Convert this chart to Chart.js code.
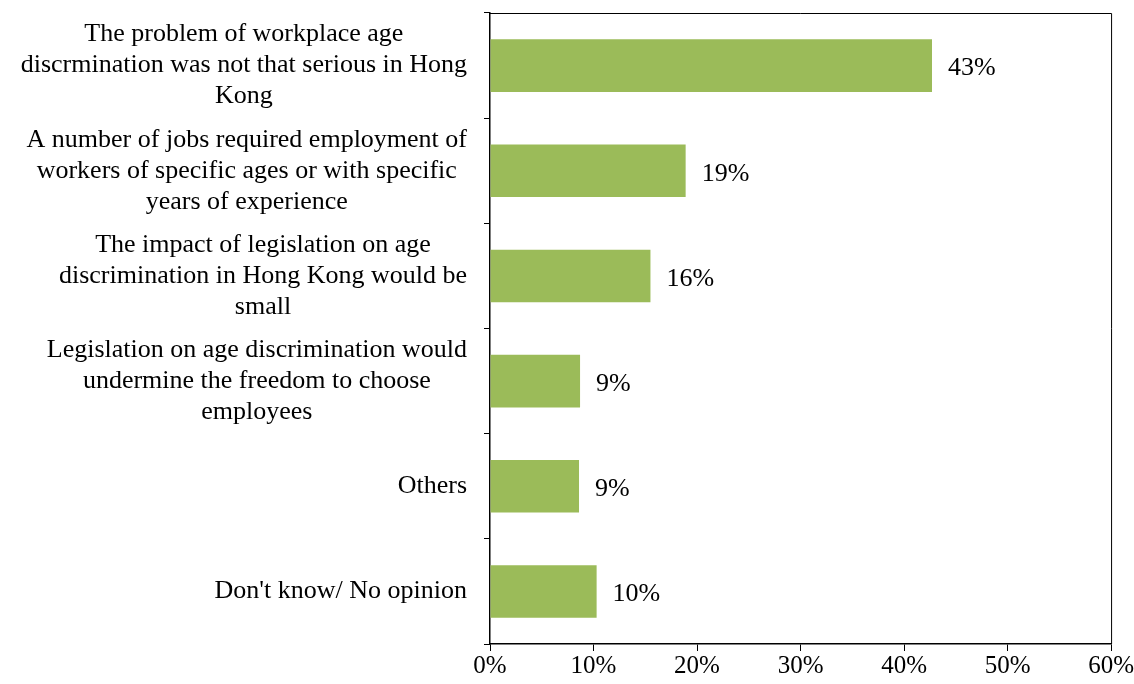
<!DOCTYPE html>
<html>
<head>
<meta charset="utf-8">
<script src="https://cdn.jsdelivr.net/npm/chart.js@4"></script>
<style>
  body { margin: 0; background: #fff; }
  #wrap { width: 1134px; height: 684px; position: relative; }
</style>
</head>
<body>
<div id="wrap"><canvas id="Chart"></canvas></div>
<script>
// categories, top to bottom
var reasons = [
    ["The problem of workplace age", "discrmination was not that serious in Hong", "Kong"],
    ["A number of jobs required employment of", "workers of specific ages or with specific", "years of experience"],
    ["The impact of legislation on age", "discrimination in Hong Kong would be", "small"],
    ["Legislation on age discrimination would", "undermine the freedom to choose", "employees"],
    ["Others"],
    ["Don't know/ No opinion"]
];
// share of respondents (%)
var shares = [42.7, 18.9, 15.5, 8.7, 8.6, 10.3];
// printed value labels
var shareLabels = ["43%", "19%", "16%", "9%", "9%", "10%"];

var serif = "'Liberation Serif', 'Times New Roman', serif";

// category labels: block right-aligned to the axis, lines centred inside it
var catLabels = {
    id: 'catLabels',
    afterDraw: function(chart) {
        var ctx = chart.ctx;
        var yScale = chart.scales.y;
        var area = chart.chartArea;
        ctx.save();
        ctx.font = "26px " + serif;
        ctx.fillStyle = "#000";
        ctx.textAlign = "center";
        ctx.textBaseline = "middle";
        var lineH = 31;
        reasons.forEach(function(lines, i) {
            var maxW = 0;
            lines.forEach(function(l) { maxW = Math.max(maxW, ctx.measureText(l).width); });
            var cx = area.left - 23 - maxW / 2;
            var cy = yScale.getPixelForValue(i);
            var y0 = cy - (lines.length - 1) * lineH / 2;
            lines.forEach(function(l, k) {
                ctx.fillText(l, cx, y0 + k * lineH);
            });
        });
        ctx.restore();
    }
};

// value labels to the right of each bar, plus the frame
var barValues = {
    id: 'barValues',
    afterDatasetsDraw: function(chart) {
        var ctx = chart.ctx;
        var meta = chart.getDatasetMeta(0);
        var area = chart.chartArea;
        ctx.save();
        ctx.strokeStyle = "#000";
        ctx.lineWidth = 1;
        ctx.beginPath();
        ctx.moveTo(area.left, area.top + 0.5);
        ctx.lineTo(area.right + 0.5, area.top + 0.5);
        ctx.lineTo(area.right + 0.5, area.bottom);
        ctx.stroke();
        ctx.font = "26px " + serif;
        ctx.fillStyle = "#000";
        ctx.textAlign = "left";
        ctx.textBaseline = "middle";
        meta.data.forEach(function(bar, i) {
            ctx.fillText(shareLabels[i], bar.x + 16, bar.y + 3);
        });
        ctx.restore();
    }
};

var ctx = document.getElementById("Chart");
var newChart = new Chart(ctx, {
    type: 'bar',
    data: {
        labels: reasons,
        datasets: [{
            data: shares,
            backgroundColor: "#9BBB59",
            borderWidth: 0,
            barPercentage: 0.5,
            categoryPercentage: 1.0
        }]
    },
    options: {
        indexAxis: 'y',
        responsive: true,
        maintainAspectRatio: false,
        animation: false,
        layout: { padding: { left: 484, top: 13, right: 0, bottom: 3 } },
        plugins: {
            legend: { display: false },
            tooltip: { enabled: false }
        },
        scales: {
            x: {
                min: 0,
                max: 60,
                ticks: {
                    stepSize: 10,
                    color: "#000",
                    font: { family: serif, size: 25 },
                    padding: 0,
                    maxRotation: 0,
                    callback: function(v) { return v + "%"; }
                },
                grid: { drawOnChartArea: false, drawTicks: true, tickLength: 7, color: "#000" },
                border: { color: "#000", width: 1.5 }
            },
            y: {
                ticks: { display: false },
                grid: { drawOnChartArea: false, drawTicks: true, tickLength: 6, offset: true, color: "#000" },
                border: { color: "#000", width: 1.5 }
            }
        }
    },
    plugins: [catLabels, barValues]
});
</script>
</body>
</html>
